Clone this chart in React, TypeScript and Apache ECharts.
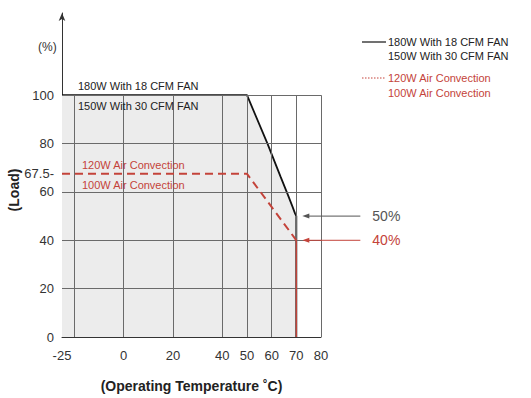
import React, { useEffect, useRef } from "react";
import * as echarts from "echarts";

// Axis ticks that carry a label
const TEMP_TICKS = [-25, 0, 20, 40, 50, 60, 70, 80];
const LOAD_TICKS = [0, 20, 40, 60, 67.5, 80, 100];

// Grid lines inside the plot box
const TEMP_GRID = [-20, 0, 20, 40, 50, 60, 70, 80];
const LOAD_GRID = [20, 40, 60, 80, 100];

// Derating curves: [ambient °C, load %]
const FAN_CURVE = [
  [-25, 100],
  [50, 100],
  [58.3, 80],
  [63.6, 66.3],
  [66.5, 59],
  [68.4, 54],
  [69.5, 51],
  [70, 50],
  [70, 0],
];
const CONVECTION_CURVE = [
  [-25, 67.5],
  [50, 67.5],
  [70, 40],
];
const CONVECTION_DROP = [
  [70, 40],
  [70, 0],
];

// End-point loads called out on the right
const FAN_LIMIT = 50;
const CONVECTION_LIMIT = 40;
const LIMIT_TEMP = 70;

const FAN_LABELS = ["180W With 18 CFM FAN", "150W With 30 CFM FAN"];
const CONVECTION_LABELS = ["120W Air Convection", "100W Air Convection"];

const FONT = "'Liberation Sans', Arial, Helvetica, sans-serif";
const RED = "#c4433a";
const DARK = "#222";

export default function App() {
  const ref = useRef<HTMLDivElement>(null);

  useEffect(() => {
    if (!ref.current) return;
    const chart = echarts.init(ref.current, undefined, { renderer: "svg" });

    const gridLines: any[] = [];
    TEMP_GRID.forEach((t) => gridLines.push([{ coord: [t, 0] }, { coord: [t, 100] }]));
    LOAD_GRID.forEach((l) => gridLines.push([{ coord: [-25, l] }, { coord: [80, l] }]));

    chart.setOption({
      animation: false,
      grid: { left: 62, right: 210, top: 13, bottom: 55 },
      xAxis: {
        type: "value",
        min: -25,
        max: 80,
        interval: 5,
        splitLine: { show: false },
        axisTick: { show: false },
        axisLine: { onZero: false, lineStyle: { color: "#333", width: 1 } },
        axisLabel: {
          margin: 12,
          fontSize: 13,
          color: "#333",
          fontFamily: FONT,
          formatter: (v: number) => (TEMP_TICKS.includes(v) ? String(v) : ""),
        },
        name: "(Operating Temperature \u02DAC)",
        nameLocation: "middle",
        nameGap: 42,
        nameTextStyle: { fontSize: 14, fontWeight: "bold", color: DARK, fontFamily: FONT },
      },
      yAxis: {
        type: "value",
        min: 0,
        max: 134,
        interval: 2.5,
        splitLine: { show: false },
        axisTick: { show: false },
        axisLine: {
          show: true,
          onZero: false,
          symbol: ["none", "arrow"],
          symbolSize: [5, 8],
          lineStyle: { color: "#333", width: 1 },
        },
        axisLabel: {
          margin: 8,
          fontSize: 13,
          color: "#333",
          fontFamily: FONT,
          formatter: (v: number) =>
            LOAD_TICKS.includes(v) ? (v === 67.5 ? "67.5-" : String(v)) : "",
        },
      },
      series: [
        {
          type: "line",
          data: FAN_CURVE,
          symbol: "none",
          z: 1,
          lineStyle: { width: 0, opacity: 0 },
          areaStyle: { color: "#ececec", opacity: 1 },
          silent: true,
        },
        {
          type: "line",
          data: [],
          z: 2,
          silent: true,
          markLine: {
            silent: true,
            symbol: ["none", "none"],
            label: { show: false },
            lineStyle: { color: "#6a6a6a", width: 1, type: "solid" },
            data: gridLines,
          },
        },
        {
          type: "line",
          data: FAN_CURVE,
          symbol: "none",
          z: 4,
          lineStyle: { color: "#111", width: 1.8 },
        },
        {
          type: "line",
          data: CONVECTION_CURVE,
          symbol: "none",
          z: 5,
          lineStyle: { color: RED, width: 2, type: [8, 5] },
        },
        {
          type: "line",
          data: CONVECTION_DROP,
          symbol: "none",
          z: 5,
          lineStyle: { color: RED, width: 1.3 },
        },
      ],
    });

    const px = (x: number, y: number) =>
      chart.convertToPixel({ xAxisIndex: 0, yAxisIndex: 0 }, [x, y]) as number[];

    const edge = px(LIMIT_TEMP, 0)[0];
    const yFan = px(LIMIT_TEMP, FAN_LIMIT)[1];
    const yConv = px(LIMIT_TEMP, CONVECTION_LIMIT)[1];
    const yTop = px(0, 100)[1];
    const yConvLevel = px(0, 67.5)[1];
    const xLeft = px(-25, 0)[0];

    const arrow = (y: number, color: string, text: string) => [
      {
        type: "line",
        z: 100,
        shape: { x1: edge + 12, y1: y, x2: edge + 64, y2: y },
        style: { stroke: color, lineWidth: 1 },
      },
      {
        type: "polygon",
        z: 100,
        shape: { points: [[edge + 6, y], [edge + 13, y - 2.5], [edge + 13, y + 2.5]] },
        style: { fill: color },
      },
      {
        type: "text",
        z: 100,
        x: edge + 76,
        y,
        style: {
          text,
          fill: color,
          font: `14px ${FONT}`,
          textVerticalAlign: "middle",
        },
      },
    ];

    const label = (x: number, y: number, text: string, color: string) => ({
      type: "text",
      z: 100,
      x,
      y,
      style: { text, fill: color, font: `11px ${FONT}`, textVerticalAlign: "middle" },
    });

    chart.setOption({
      graphic: [
        {
          type: "text",
          z: 100,
          x: 38,
          y: 47,
          style: { text: "(%)", fill: "#333", font: `12px ${FONT}`, textVerticalAlign: "middle" },
        },
        {
          type: "text",
          z: 100,
          x: 14,
          y: 190,
          rotation: Math.PI / 2,
          style: {
            text: "(Load)",
            fill: DARK,
            font: `bold 14px ${FONT}`,
            textAlign: "center",
            textVerticalAlign: "middle",
          },
        },
        label(xLeft + 16, yTop - 9, FAN_LABELS[0], DARK),
        label(xLeft + 16, yTop + 11, FAN_LABELS[1], DARK),
        label(xLeft + 20, yConvLevel - 9, CONVECTION_LABELS[0], RED),
        label(xLeft + 20, yConvLevel + 11, CONVECTION_LABELS[1], RED),
        // legend
        {
          type: "line",
          z: 100,
          shape: { x1: 362, y1: 42, x2: 386, y2: 42 },
          style: { stroke: "#111", lineWidth: 1.2 },
        },
        label(388, 42, FAN_LABELS[0], DARK),
        label(388, 56, FAN_LABELS[1], DARK),
        {
          type: "line",
          z: 100,
          shape: { x1: 362, y1: 78, x2: 386, y2: 78 },
          style: { stroke: RED, lineWidth: 1, lineDash: [1.5, 1.5] },
        },
        label(388, 78, CONVECTION_LABELS[0], RED),
        label(388, 93, CONVECTION_LABELS[1], RED),
        ...arrow(yFan, "#555", `${FAN_LIMIT}%`),
        ...arrow(yConv, RED, `${CONVECTION_LIMIT}%`),
      ],
    });

    return () => chart.dispose();
  }, []);

  return (
    <div
      ref={ref}
      style={{ position: "fixed", left: 0, top: 0, width: 531, height: 398, background: "#fff" }}
    />
  );
}
